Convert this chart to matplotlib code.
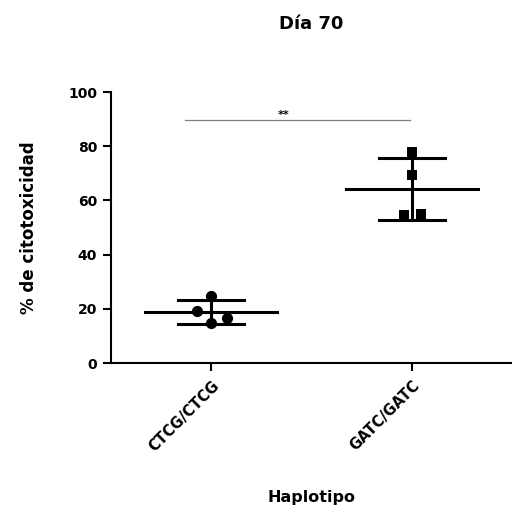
import numpy as np
import matplotlib.pyplot as plt

plt.rcParams['font.family'] = ['DejaVu Sans']
plt.rcParams['font.weight'] = 'bold'

# Datos
grupos = ['CTCG/CTCG', 'GATC/GATC']
ctcg = [24.7, 19.2, 14.8, 16.6]
gatc = [77.9, 69.4, 54.6, 55.0]
x_ctcg = [0.0, -0.07, 0.0, 0.08]
x_gatc = [0.0, 0.0, -0.04, 0.045]

fig = plt.figure(figsize=(5.12, 5.12), dpi=100)
ax = fig.add_axes([0.217, 0.291, 0.783, 0.529])

for i, (vals, xs, mk, sz) in enumerate([(ctcg, x_ctcg, 'o', 65), (gatc, x_gatc, 's', 55)]):
    vals = np.array(vals)
    media = vals.mean()
    sd = vals.std(ddof=1)
    ax.scatter(i + np.array(xs), vals, marker=mk, s=sz, color='black',
               linewidths=0, zorder=3)
    ax.plot([i - 0.33, i + 0.33], [media, media], color='black', lw=2.2)
    ax.plot([i, i], [media - sd, media + sd], color='black', lw=2.2)
    ax.plot([i - 0.165, i + 0.165], [media + sd] * 2, color='black', lw=2.2)
    ax.plot([i - 0.165, i + 0.165], [media - sd] * 2, color='black', lw=2.2)

# Línea de significancia
ax.plot([-0.13, 0.99], [89.7, 89.7], color='gray', lw=0.9)
ax.text(0.36, 89.9, '**', ha='center', va='bottom', fontsize=8)

ax.set_xlim(-0.5, 1.5)
ax.set_ylim(0, 100)
ax.set_yticks([0, 20, 40, 60, 80, 100])
ax.set_xticks([0, 1])
ax.set_xticklabels(grupos, rotation=45, ha='right', rotation_mode='anchor', fontsize=10.5)
ax.tick_params(axis='both', width=1.5, length=6, labelsize=10)
ax.tick_params(axis='y', pad=4)
ax.tick_params(axis='x', labelsize=10.5, pad=5)
for s in ['top', 'right']:
    ax.spines[s].set_visible(False)
for s in ['left', 'bottom']:
    ax.spines[s].set_linewidth(1.5)

ax.set_ylabel('% de citotoxicidad', fontsize=12, fontweight='bold')
ax.yaxis.set_label_coords(-0.182, 0.5)
ax.set_xlabel('Haplotipo', fontsize=11.5, fontweight='bold')
ax.xaxis.set_label_coords(0.5, -0.47)
ax.set_title('Día 70', fontsize=13, fontweight='bold', y=1.232, pad=0)

fig.savefig('out.png', dpi=100)
